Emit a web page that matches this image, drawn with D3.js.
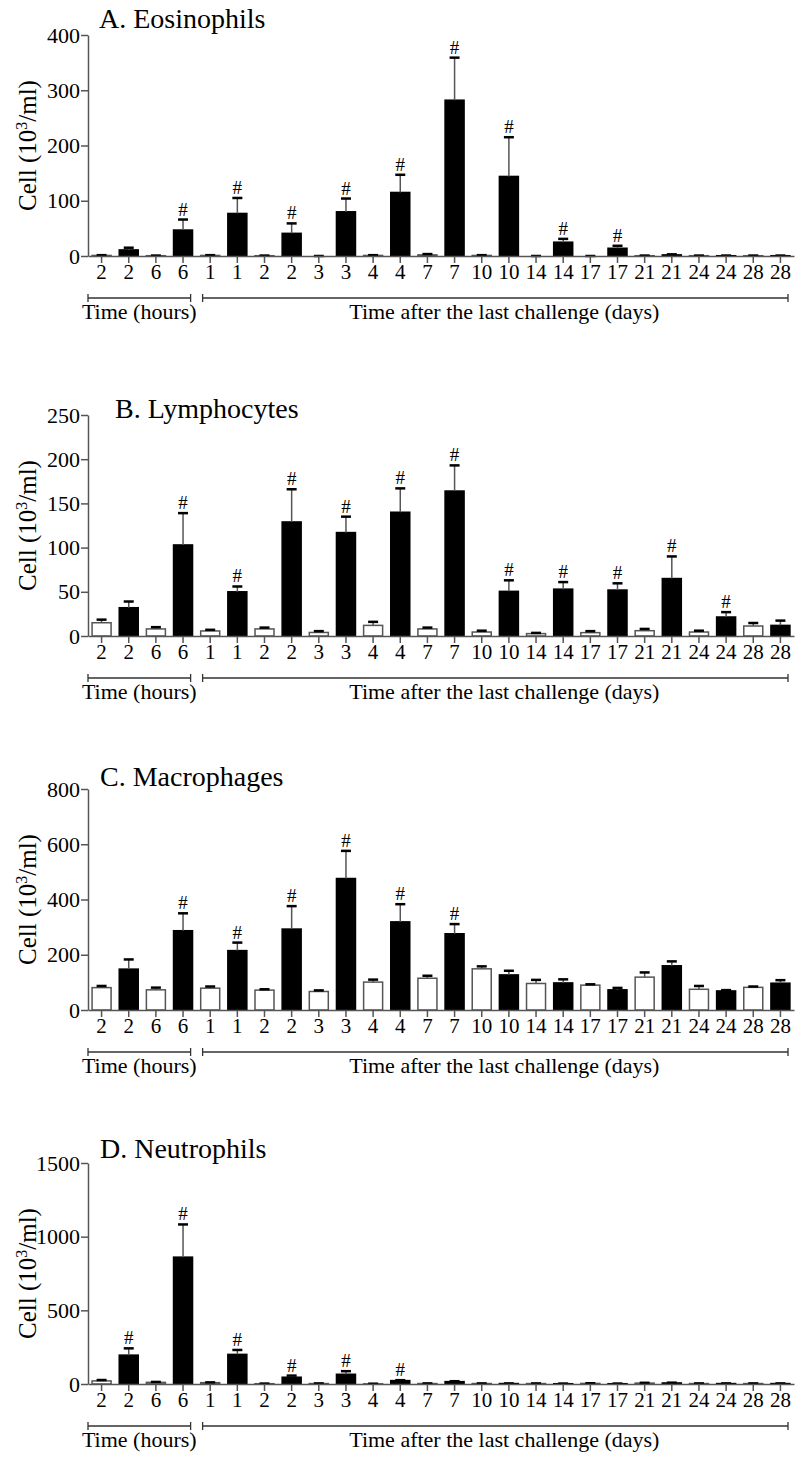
<!DOCTYPE html>
<html>
<head>
<meta charset="utf-8">
<script src="https://cdn.jsdelivr.net/npm/d3@7"></script>
<style>
  body { margin: 0; background: #fff; }
</style>
</head>
<body>
<script>
// bar labels (time points), every point has a control (open) and challenged (filled) bar
var categories = ["2","2","6","6","1","1","2","2","3","3","4","4","7","7","10","10","14","14","17","17","21","21","24","24","28","28"];
var filled = [0,1,0,1,0,1,0,1,0,1,0,1,0,1,0,1,0,1,0,1,0,1,0,1,0,1];

//A. Eosinophils
var eosMean = [1,11,0.5,47,1,77,0.5,41,0,80,1,115,2,282,1,144,0,25,0,14,0.5,2,0.5,0.5,0.5,0.5];
var eosSem  = [0.5,4,0.3,19,0.5,28,0.3,18,0,24,0.5,32,1.5,77,0.5,71,0,6,0,4.5,0.3,1,0.3,0.3,0.3,0.3];
var eosSig  = [3,5,7,9,11,13,15,17,19];
var eosTicks = [0,100,200,300,400];

//B. Lymphocytes
var lymMean = [15,32,8,103,5.7,50,8,129,4,117,12,140,8,164,4.5,50.5,2.7,53,3.8,52,6,65,4.5,21.5,11.3,12];
var lymSem  = [3.5,7,2,36,1.3,6,1.5,37,1.5,18,4,27,1.5,29,1.5,12.5,0.8,8,1.7,7.6,2,25,1.5,5.5,3.4,5.4];
var lymSig  = [3,5,7,9,11,13,15,17,19,21,23];
var lymTicks = [0,50,100,150,200,250];

//C. Macrophages
var macMean = [81,148,73,287,79,215,72,293,67,476,101,319,115,276,149,127,96,98,90,73,119,160,75,69,82,97];
var macSem  = [6,35,8,63,6,29,3,83,4,100,9,64,9,35,9,15,13,13,3,7,17,16,12,3,3,11];
var macSig  = [3,5,7,9,11,13];
var macTicks = [0,200,400,600,800];

//D. Neutrophils
var neuMean = [21,196,11,861,9,201,2,46,3,66,1,23,3,16,3,3,3,2,4,2,6,7,3,3,3,3];
var neuSem  = [6,46,3,222,2,30,1,11,1,21,1,3,1,3,1,1,1,1,1,1,2,2,1,1,1,1];
var neuSig  = [1,3,5,7,9,11];
var neuTicks = [0,500,1000,1500];

var titles = ["A. Eosinophils","B. Lymphocytes","C. Macrophages","D. Neutrophils"];
var groupLabels = ["Time (hours)","Time after the last challenge (days)"];
var groupRanges = [[0,3],[4,25]];   //first and last bar index of each bracket

var panels = [
    {title: titles[0], mean: eosMean, sem: eosSem, sig: eosSig, ticks: eosTicks},
    {title: titles[1], mean: lymMean, sem: lymSem, sig: lymSig, ticks: lymTicks},
    {title: titles[2], mean: macMean, sem: macSem, sig: macSig, ticks: macTicks},
    {title: titles[3], mean: neuMean, sem: neuSem, sig: neuSig, ticks: neuTicks}
];

//layout of each panel on the page
var plotTop = [35, 415, 789, 1163];
var titlePos = [[99,28],[115,418],[100,786],[100,1158]];
var labelShift = [0, 9];   //label offset from bracket centre
var plotH = 221;
var left = 88, right = 794;
var axisColor = "#555";
var serif = "Liberation Serif";

var svg = d3.select("body").append("svg")
    .attr("width", 795)
    .attr("height", 1457)
    .attr("font-family", serif);

var x = d3.scaleBand()
    .domain(d3.range(categories.length))
    .range([left, right])
    .paddingInner(0.3)
    .paddingOuter(0.15);

panels.forEach(function(p, k){
    var top = plotTop[k];
    var g = svg.append("g");

    var y = d3.scaleLinear()
        .domain([0, d3.max(p.ticks)])
        .range([top + plotH, top]);

    //bars
    g.selectAll(".bar")
        .data(p.mean)
        .enter()
        .append("rect")
        .attr("class", "bar")
        .attr("x", function(d, i){ return x(i); })
        .attr("width", x.bandwidth())
        .attr("y", function(d){ return y(d); })
        .attr("height", function(d){ return y(0) - y(d); })
        .attr("fill", function(d, i){ return filled[i] ? "#000" : "#fff"; })
        .attr("stroke", function(d, i){ return filled[i] ? "#000" : axisColor; })
        .attr("stroke-width", 1.5);

    //error bars (upper only)
    var cx = function(i){ return x(i) + x.bandwidth() / 2; };
    g.selectAll(".whisker")
        .data(p.mean)
        .enter()
        .append("line")
        .attr("x1", function(d, i){ return cx(i); })
        .attr("x2", function(d, i){ return cx(i); })
        .attr("y1", function(d){ return y(d); })
        .attr("y2", function(d, i){ return y(d + p.sem[i]); })
        .attr("stroke", axisColor)
        .attr("stroke-width", 1.5);
    g.selectAll(".cap")
        .data(p.mean)
        .enter()
        .append("line")
        .attr("x1", function(d, i){ return cx(i) - 5; })
        .attr("x2", function(d, i){ return cx(i) + 5; })
        .attr("y1", function(d, i){ return y(d + p.sem[i]); })
        .attr("y2", function(d, i){ return y(d + p.sem[i]); })
        .attr("stroke", "#000")
        .attr("stroke-width", 2.5);

    //significance marks
    g.selectAll(".sig")
        .data(p.sig)
        .enter()
        .append("text")
        .attr("x", function(i){ return cx(i); })
        .attr("y", function(i){ return y(p.mean[i] + p.sem[i]) - 4; })
        .attr("text-anchor", "middle")
        .attr("font-family", serif)
        .attr("font-size", 19)
        .text("#");

    //axes
    var yAxis = d3.axisLeft(y)
        .tickValues(p.ticks)
        .tickFormat(d3.format("d"))
        .tickSize(7)
        .tickPadding(1)
        .tickSizeOuter(0);
    var ya = g.append("g")
        .attr("transform", "translate(" + left + ",0)")
        .call(yAxis);

    var xAxis = d3.axisBottom(x)
        .tickFormat(function(i){ return categories[i]; })
        .tickSize(7)
        .tickPadding(1)
        .tickSizeOuter(0);
    var xa = g.append("g")
        .attr("transform", "translate(0," + y(0) + ")")
        .call(xAxis);

    [[ya, 22], [xa, 21]].forEach(function(a){
        a[0].attr("font-family", serif).attr("font-size", a[1]);
        a[0].selectAll("text").attr("fill", "#000");
        a[0].selectAll(".domain, .tick line")
            .attr("stroke", axisColor)
            .attr("stroke-width", 1.5);
    });

    //y label
    g.append("text")
        .attr("transform", "translate(27," + (top + plotH / 2) + ") rotate(-90)")
        .attr("text-anchor", "middle")
        .attr("dy", "0.35em")
        .attr("font-family", serif)
        .attr("font-size", 25)
        .html('Cell (10<tspan dy="-9" font-size="16">3</tspan><tspan dy="9">/ml)</tspan>');

    //title
    g.append("text")
        .attr("x", titlePos[k][0])
        .attr("y", titlePos[k][1])
        .attr("font-family", serif)
        .attr("font-size", 28)
        .text(p.title);

    //time brackets below x axis
    var by = y(0) + 42;
    var step = x.step();
    groupRanges.forEach(function(r, j){
        var x1 = x(r[0]) + x.bandwidth() / 2 - step / 2 + (j === 0 ? 0 : 6);
        var x2 = x(r[1]) + x.bandwidth() / 2 + step / 2 - 6;
        g.append("path")
            .attr("d", "M" + x1 + "," + (by - 4) + "V" + (by + 4) + "M" + x1 + "," + by + "H" + x2 + "M" + x2 + "," + (by - 4) + "V" + (by + 4))
            .attr("fill", "none")
            .attr("stroke", "#333")
            .attr("stroke-width", 1.3);
        g.append("text")
            .attr("x", (x1 + x2) / 2 + labelShift[j])
            .attr("y", by + 21)
            .attr("text-anchor", "middle")
            .attr("font-family", serif)
            .attr("font-size", 22)
            .text(groupLabels[j]);
    });
});
</script>
</body>
</html>
